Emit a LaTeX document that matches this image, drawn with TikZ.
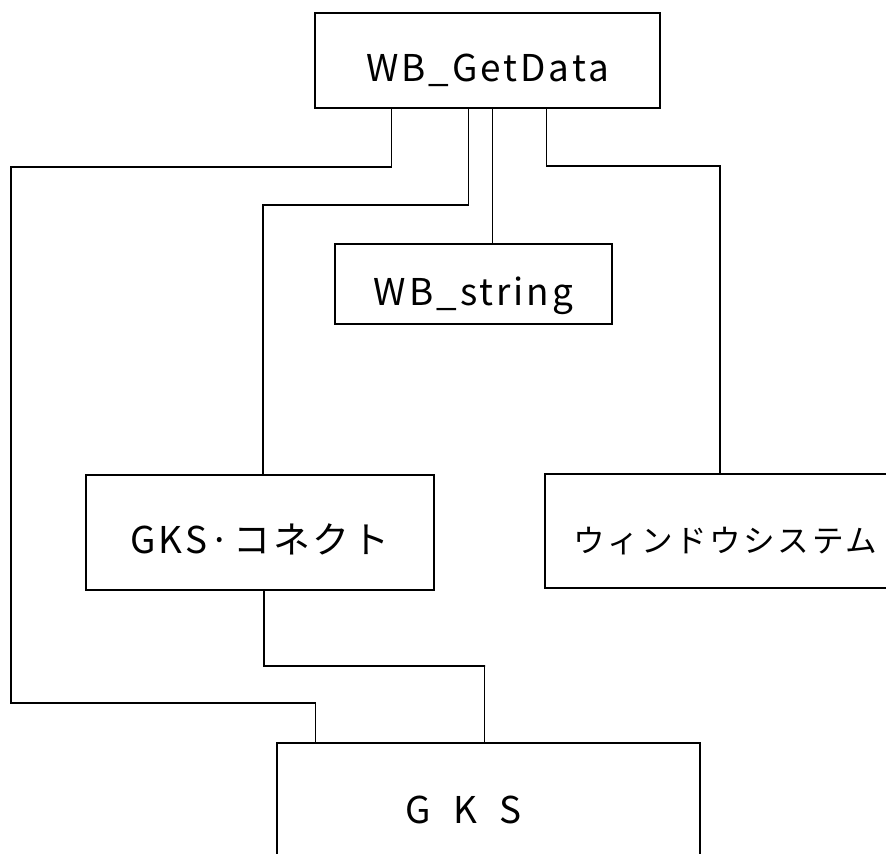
\documentclass[tikz,border=0pt]{standalone}
\usepackage{fontspec}
\newfontfamily\hand[LetterSpace=8]{Noto Sans CJK JP}
\usepackage{tikz}

\begin{document}
\begin{tikzpicture}[
  x=0.02cm, y=-0.02cm,
  every node/.style = {font=\hand\fontsize{21}{25}\selectfont},
  %% box styles
  mbox/.style = {rectangle, draw=black, line width=0.9pt, inner sep=0pt,
                 text height=0.96cm, text depth=0.1cm},
  %% connector
  link/.style = {line width=0.6pt, draw=black}
]
\useasboundingbox (0,0) rectangle (886,854);

%% ---- Boxes ----
\node[mbox, minimum width=6.9cm,  minimum height=1.9cm]  (get)  at (487.5,60.5) {WB\_GetData};
\node[mbox, minimum width=5.54cm, minimum height=1.6cm]  (str)  at (473.5,284)  {WB\_string};
\node[mbox, minimum width=6.96cm, minimum height=2.3cm]  (gksc) at (260,532.5)  {GKS·コネクト};
\node[mbox, minimum width=7.2cm,  minimum height=2.28cm,
      font=\hand\fontsize{18}{22}\selectfont]            (win)  at (725,531)    {ウィンドウシステム};
\node[mbox, minimum width=8.46cm, minimum height=2.38cm] (gks)  at (488.5,802.5)
  {G\hspace{0.45cm}K\hspace{0.45cm}S\kern1cm};

%% ---- Exits under WB_GetData ----
\coordinate (g1) at ([xshift=1.54cm]get.south west);
\coordinate (g2) at ([xshift=3.08cm]get.south west);
\coordinate (g3) at ([xshift=3.56cm]get.south west);
\coordinate (g4) at ([xshift=4.64cm]get.south west);

%% ---- Connectors ----
\draw[link] (g1) |- (11,167) -- (11,703) -| ([xshift=0.78cm]gks.north west);
\draw[link] (g2) |- (263,205) -| ([xshift=0.06cm]gksc.north);
\draw[link] (g3) -- (g3 |- str.north);
\draw[link] (g4) |- (720,166) -| ([xshift=-0.1cm]win.north);
\draw[link] ([xshift=0.08cm]gksc.south) |- (485,666) -| ([xshift=4.16cm]gks.north west);

\end{tikzpicture}
\end{document}
